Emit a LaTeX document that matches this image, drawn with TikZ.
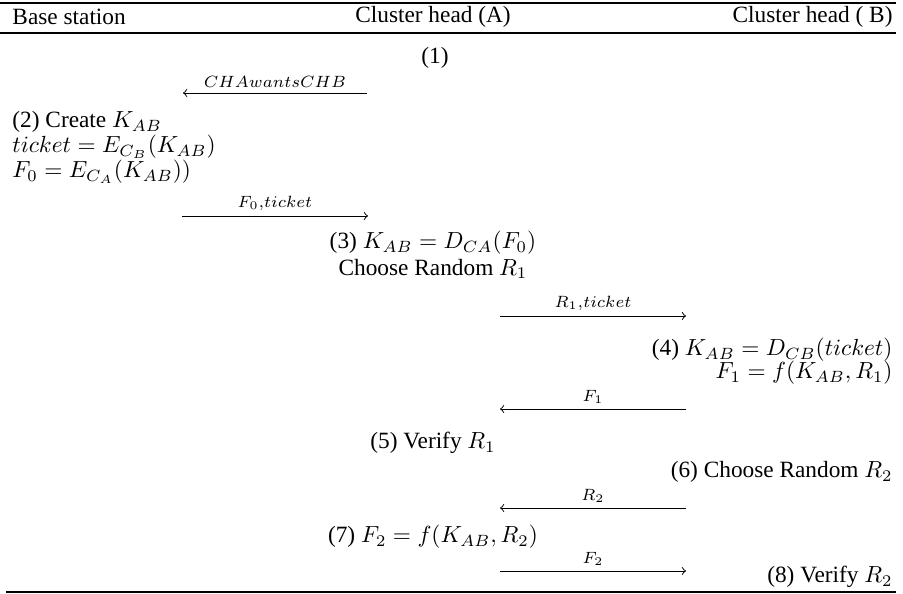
\documentclass[tikz,border=0pt]{standalone}
\usepackage[no-math]{fontspec}
\setmainfont{Liberation Serif}

\tikzset{
  rulebar/.style={line width=0.8pt},
  msg/.style={->, line width=0.4pt},
  msglabel/.style={above, inner sep=2.2pt},
  txt/.style={inner sep=0pt}
}

\begin{document}
\begin{tikzpicture}[x=0.429pt, y=-0.429pt]
\useasboundingbox (0,0) rectangle (903,594);

\def\colA{12}  % base station, left edge
\def\colB{433} % cluster head A, centre
\def\colC{893} % cluster head B, right edge

% rules
\draw[rulebar] (0,3) -- (896,3);
\draw[rulebar] (0,33) -- (896,33);
\draw[rulebar] (6,592) -- (896,592);

% header
\node[txt, anchor=west] (hbs) at (\colA,17) {Base station};
\node[txt] (hcha) at (\colB,17) {Cluster head (A)};
\node[txt, anchor=east] (hchb) at (\colC,17) {Cluster head ( B)};

% steps
\node[txt] (one) at (435,58) {(1)};
\node[txt, anchor=west] (create) at (\colA,122) {(2) Create $K_{AB}$};
\node[txt, anchor=west] (ticket) at (\colA,147) {$ticket = E_{C_B}(K_{AB})$};
\node[txt, anchor=west] (fzero) at (\colA,172) {$F_0 = E_{C_A}(K_{AB}))$};
\node[txt] (decA) at (\colB,243) {(3) $K_{AB} = D_{CA}(F_0)$};
\node[txt] (randA) at (\colB,269) {Choose Random $R_1$};
\node[txt, anchor=east] (decB) at (\colC,350) {(4) $K_{AB} = D_{CB}(ticket)$};
\node[txt, anchor=east] (fone) at (\colC,373) {$F_1 = f(K_{AB},R_1)$};
\node[txt] (verA) at (\colB,443) {(5) Verify $R_1$};
\node[txt, anchor=east] (randB) at (\colC,472) {(6) Choose Random $R_2$};
\node[txt] (ftwo) at (\colB,537) {(7) $F_2 = f(K_{AB},R_2)$};
\node[txt, anchor=east] (verB) at (\colC,577) {(8) Verify $R_2$};

% messages
\foreach \n/\xs/\xe/\yy/\lab in {1/367/183/93/{CHAwantsCHB},
    2/182/368/216/{F_0,ticket}, 3/500/686/316/{R_1,ticket},
    4/686/500/409/{F_1}, 5/686/500/508/{R_2}, 6/500/686/571/{F_2}} {
  \coordinate (s\n) at (\xs,\yy);
  \coordinate (e\n) at (\xe,\yy);
  \draw[msg] (s\n) -- node[msglabel] {$\scriptstyle\lab$} (e\n);
}

\end{tikzpicture}
\end{document}
